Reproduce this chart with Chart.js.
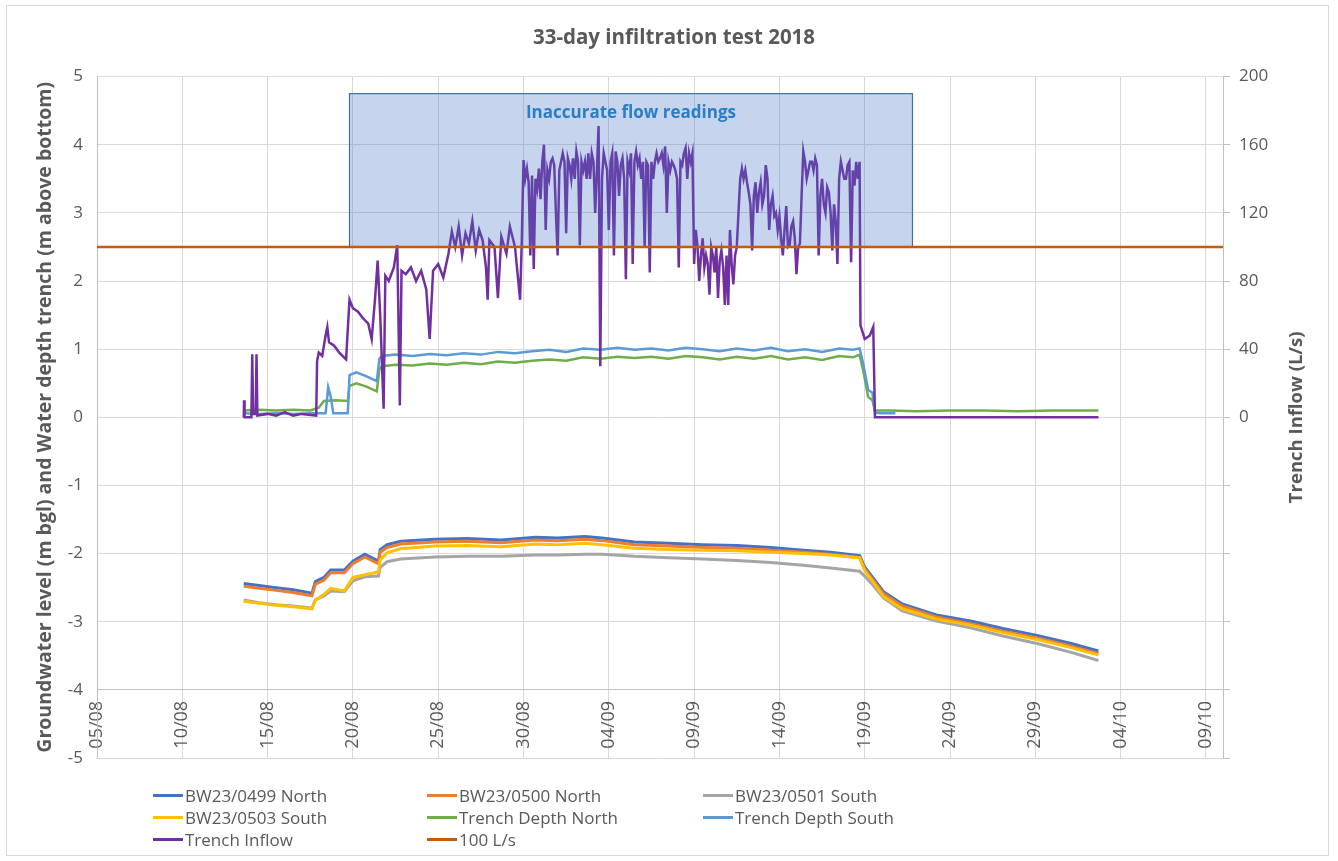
<!DOCTYPE html>
<html>
<head>
<meta charset="utf-8">
<script src="https://cdn.jsdelivr.net/npm/chart.js@4.4.1/dist/chart.umd.min.js"></script>
<style>
  html, body { margin: 0; padding: 0; background: #fff; }
  #wrap { position: relative; width: 1338px; height: 861px; }
  #frame { position: absolute; left: 6px; top: 5px; width: 1323px; height: 851px; border: 1px solid #d9d9d9; box-sizing: border-box; pointer-events: none; }
  .item { position: absolute; height: 22px; display: flex; align-items: center; white-space: nowrap;
          font-family: "Open Sans", sans-serif; font-size: 17px; color: #595959; }
  .item i { display: inline-block; width: 30px; height: 3px; margin-right: 2px; }
</style>
</head>
<body>
<div id="wrap">
  <canvas id="myChart" width="1338" height="861"></canvas>
  <div id="frame"></div>
</div>
<script>
// x values are days after 05/08/2018
var xTickLabels = ['05/08', '10/08', '15/08', '20/08', '25/08', '30/08', '04/09',
                   '09/09', '14/09', '19/09', '24/09', '29/09', '04/10', '09/10'];

// groundwater loggers (m bgl)
var gwDays = [8.6, 9.5, 10.5, 11.5, 12.6, 12.8, 13.3, 13.7, 14.5, 15.0,
              15.7, 16.5, 16.6, 17.0, 17.8, 19.8, 21.7, 23.7, 25.7, 27.0,
              28.6, 29.6, 31.5, 33.5, 35.5, 37.5, 39.5, 41.4, 43.0, 44.7,
              45.0, 45.5, 46.1, 47.2, 49.2, 51.2, 53.1, 55.1, 57.1, 58.7];
var bw0499 = [-2.44, -2.47, -2.50, -2.53, -2.58, -2.41, -2.35, -2.24, -2.24, -2.11,
              -2.01, -2.11, -1.94, -1.87, -1.82, -1.79, -1.78, -1.80, -1.76, -1.77,
              -1.75, -1.77, -1.83, -1.85, -1.87, -1.88, -1.91, -1.95, -1.98, -2.03,
              -2.20, -2.36, -2.56, -2.74, -2.90, -2.99, -3.10, -3.20, -3.32, -3.43];
var bw0500 = [-2.48, -2.51, -2.54, -2.57, -2.62, -2.45, -2.39, -2.28, -2.28, -2.15,
              -2.05, -2.15, -1.98, -1.91, -1.86, -1.83, -1.82, -1.84, -1.80, -1.81,
              -1.79, -1.81, -1.87, -1.89, -1.91, -1.92, -1.95, -1.98, -2.01, -2.06,
              -2.23, -2.39, -2.59, -2.77, -2.93, -3.03, -3.14, -3.24, -3.36, -3.47];
var bw0501 = [-2.68, -2.72, -2.75, -2.77, -2.80, -2.68, -2.62, -2.55, -2.56, -2.40,
              -2.34, -2.33, -2.20, -2.12, -2.08, -2.05, -2.04, -2.04, -2.02, -2.02,
              -2.01, -2.01, -2.04, -2.06, -2.08, -2.10, -2.13, -2.17, -2.21, -2.26,
              -2.33, -2.47, -2.65, -2.84, -2.99, -3.09, -3.21, -3.32, -3.45, -3.57];
var bw0503 = [-2.70, -2.73, -2.76, -2.78, -2.81, -2.68, -2.60, -2.51, -2.55, -2.35,
              -2.31, -2.27, -2.09, -1.99, -1.93, -1.89, -1.88, -1.90, -1.86, -1.87,
              -1.85, -1.87, -1.92, -1.94, -1.95, -1.96, -1.98, -2.00, -2.02, -2.06,
              -2.25, -2.42, -2.63, -2.81, -2.96, -3.05, -3.16, -3.26, -3.38, -3.49];

// trench water depth (m above bottom)
var tnDays = [8.6, 9.5, 10.5, 11.5, 12.5, 13.0, 13.3, 14.0, 14.7, 14.8,
              15.2, 15.8, 16.4, 16.55, 16.7, 17.5, 18.5, 19.5, 20.5, 21.5,
              22.5, 23.5, 24.5, 25.5, 26.5, 27.5, 28.5, 29.5, 30.5, 31.5,
              32.5, 33.5, 34.5, 35.5, 36.5, 37.5, 38.5, 39.5, 40.5, 41.5,
              42.5, 43.5, 44.3, 44.7, 44.9, 45.2, 45.45, 45.6, 46.5, 48,
              50, 52, 54, 56, 58.7];
var trenchNorth = [0.10, 0.11, 0.10, 0.11, 0.10, 0.14, 0.24, 0.25, 0.24, 0.46,
                   0.50, 0.45, 0.38, 0.70, 0.75, 0.77, 0.76, 0.79, 0.77, 0.80,
                   0.78, 0.82, 0.80, 0.83, 0.85, 0.83, 0.88, 0.86, 0.89, 0.87,
                   0.89, 0.86, 0.90, 0.88, 0.85, 0.89, 0.86, 0.90, 0.85, 0.88,
                   0.84, 0.90, 0.88, 0.92, 0.70, 0.30, 0.25, 0.10, 0.10, 0.09,
                   0.10, 0.10, 0.09, 0.10, 0.10];
var tsDays = [8.6, 9.5, 10.5, 11.5, 12.5, 13.4, 13.55, 13.7, 13.85, 14.7,
              14.8, 15.2, 15.8, 16.4, 16.55, 16.7, 17.5, 18.5, 19.5, 20.5,
              21.5, 22.5, 23.5, 24.5, 25.5, 26.5, 27.5, 28.5, 29.5, 30.5,
              31.5, 32.5, 33.5, 34.5, 35.5, 36.5, 37.5, 38.5, 39.5, 40.5,
              41.5, 42.5, 43.5, 44.3, 44.7, 44.9, 45.2, 45.45, 45.6, 46.0,
              46.8];
var trenchSouth = [0.06, 0.05, 0.06, 0.05, 0.06, 0.06, 0.44, 0.30, 0.06, 0.06,
                   0.62, 0.66, 0.60, 0.53, 0.86, 0.90, 0.92, 0.90, 0.93, 0.91,
                   0.94, 0.92, 0.96, 0.94, 0.97, 0.99, 0.96, 1.01, 0.99, 1.02,
                   0.99, 1.01, 0.98, 1.02, 1.00, 0.97, 1.01, 0.98, 1.02, 0.97,
                   1.00, 0.96, 1.01, 0.99, 1.01, 0.80, 0.40, 0.36, 0.07, 0.06,
                   0.06];

// trench inflow (L/s, right axis)
var inflowDays = [8.6, 8.62, 8.65, 9.05, 9.1, 9.15, 9.3, 9.35, 9.4, 10.0,
                  10.5, 11.0, 11.5, 12.0, 12.85, 12.9, 13.0, 13.2, 13.4, 13.5,
                  13.6, 13.9, 14.2, 14.6, 14.8, 15.0, 15.3, 15.6, 15.9, 16.1,
                  16.3, 16.45, 16.6, 16.8, 16.9, 17.1, 17.4, 17.6, 17.75, 17.85,
                  18.1, 18.4, 18.7, 19.0, 19.3, 19.5, 19.7, 20.0, 20.3, 20.6,
                  20.8, 21.0, 21.2, 21.4, 21.6, 21.8, 22.0, 22.2, 22.4, 22.6,
                  22.8, 22.9, 23.0, 23.3, 23.5, 23.7, 24.0, 24.2, 24.5, 24.8,
                  24.9, 25.0, 25.1, 25.2, 25.3, 25.4, 25.5, 25.6, 25.7, 25.8,
                  25.9, 26.0, 26.1, 26.2, 26.3, 26.4, 26.5, 26.6, 26.7, 26.8,
                  26.9, 27.0, 27.1, 27.2, 27.3, 27.4, 27.5, 27.6, 27.7, 27.8,
                  27.9, 28.0, 28.1, 28.2, 28.3, 28.4, 28.5, 28.6, 28.7, 28.8,
                  28.9, 29.0, 29.1, 29.2, 29.3, 29.4, 29.5, 29.6, 29.7, 29.8,
                  29.9, 30.0, 30.1, 30.2, 30.3, 30.4, 30.5, 30.6, 30.7, 30.8,
                  30.9, 31.0, 31.1, 31.2, 31.3, 31.4, 31.5, 31.6, 31.7, 31.8,
                  31.9, 32.0, 32.1, 32.2, 32.3, 32.4, 32.5, 32.6, 32.7, 32.8,
                  32.9, 33.0, 33.1, 33.2, 33.3, 33.4, 33.5, 33.6, 33.7, 33.8,
                  33.9, 34.0, 34.1, 34.2, 34.3, 34.4, 34.5, 34.6, 34.7, 34.8,
                  34.9, 35.0, 35.1, 35.2, 35.3, 35.4, 35.5, 35.6, 35.7, 35.8,
                  35.9, 36.0, 36.1, 36.2, 36.3, 36.4, 36.5, 36.6, 36.7, 36.8,
                  36.9, 37.0, 37.1, 37.2, 37.3, 37.4, 37.5, 37.6, 37.7, 37.8,
                  37.9, 38.0, 38.1, 38.2, 38.3, 38.4, 38.5, 38.6, 38.7, 38.8,
                  38.9, 39.0, 39.1, 39.2, 39.3, 39.4, 39.5, 39.6, 39.7, 39.8,
                  39.9, 40.0, 40.1, 40.2, 40.3, 40.4, 40.5, 40.6, 40.7, 40.8,
                  40.9, 41.0, 41.1, 41.2, 41.3, 41.4, 41.5, 41.6, 41.7, 41.8,
                  41.9, 42.0, 42.1, 42.2, 42.3, 42.4, 42.5, 42.6, 42.7, 42.8,
                  42.9, 43.0, 43.1, 43.2, 43.3, 43.4, 43.5, 43.6, 43.7, 43.8,
                  43.9, 44.0, 44.1, 44.2, 44.3, 44.4, 44.5, 44.6, 44.7, 44.75,
                  45.0, 45.3, 45.5, 45.6, 58.7];
var inflow = [0, 10, 0, 0, 37, 2, 2, 37, 1, 2,
              1, 3, 1, 2, 1, 33, 38, 36, 48, 53,
              44, 42, 38, 34, 69, 64, 62, 58, 55, 46,
              70, 92, 60, 5, 83, 80, 88, 101, 7, 86,
              84, 88, 80, 86, 75, 46, 86, 90, 82, 96,
              109, 100, 112, 95, 108, 102, 115, 98, 110, 104,
              88, 69, 104, 100, 70, 106, 96, 112, 100, 69,
              104, 151, 140, 146, 138, 95, 142, 87, 140, 134,
              146, 128, 150, 160, 110, 145, 140, 150, 152, 148,
              120, 95, 145, 150, 155, 150, 108, 152, 148, 140,
              152, 140, 156, 150, 101, 150, 145, 150, 140, 155,
              140, 155, 150, 120, 145, 171, 30, 140, 155, 150,
              145, 110, 150, 155, 95, 156, 150, 130, 148, 152,
              140, 81, 150, 145, 155, 90, 150, 156, 148, 152,
              140, 150, 100, 150, 148, 85, 150, 140, 150, 155,
              150, 152, 155, 148, 159, 120, 150, 145, 150, 148,
              145, 140, 88, 150, 148, 155, 158, 140, 155, 150,
              155, 90, 110, 100, 80, 95, 105, 88, 95, 90,
              72, 100, 95, 85, 100, 70, 92, 98, 88, 66,
              95, 66, 110, 90, 78, 95, 100, 120, 140, 146,
              140, 145, 138, 132, 125, 98, 130, 138, 120, 132,
              138, 125, 130, 148, 140, 110, 125, 130, 118, 120,
              110, 118, 105, 95, 110, 124, 100, 101, 112, 115,
              105, 84, 100, 102, 130, 156, 150, 140, 145, 150,
              150, 145, 152, 148, 95, 130, 140, 125, 120, 135,
              132, 120, 98, 125, 115, 90, 140, 150, 145, 140,
              140, 148, 150, 91, 145, 136, 150, 140, 150, 54,
              46, 48, 53, 0, 0];

// 100 L/s reference line over the whole axis
var refDays = [0, 66];
var refFlow = [100, 100];

// shaded box: days and left-axis values
var boxDays = [14.8, 47.8];
var boxLevels = [2.5, 4.75];
var boxText = 'Inaccurate flow readings';

function pts(xs, ys) {
    return xs.map(function(d, i) { return {x: d, y: ys[i]}; });
}

var font = "'Open Sans', sans-serif";
Chart.defaults.font.family = font;
Chart.defaults.font.size = 17;
Chart.defaults.color = '#595959';

const chartdata = {
    datasets: [
        {label: 'BW23/0499 North', data: pts(gwDays, bw0499), borderColor: '#4472C4', borderWidth: 3, yAxisID: 'y', order: 7},
        {label: 'BW23/0500 North', data: pts(gwDays, bw0500), borderColor: '#ED7D31', borderWidth: 3, yAxisID: 'y', order: 6},
        {label: 'BW23/0501 South', data: pts(gwDays, bw0501), borderColor: '#A5A5A5', borderWidth: 3, yAxisID: 'y', order: 5},
        {label: 'BW23/0503 South', data: pts(gwDays, bw0503), borderColor: '#FFC000', borderWidth: 3, yAxisID: 'y', order: 4},
        {label: 'Trench Depth North', data: pts(tnDays, trenchNorth), borderColor: '#70AD47', borderWidth: 2.5, yAxisID: 'y', order: 3},
        {label: 'Trench Depth South', data: pts(tsDays, trenchSouth), borderColor: '#5B9BD5', borderWidth: 2.5, yAxisID: 'y', order: 2},
        {label: 'Trench Inflow', data: pts(inflowDays, inflow), borderColor: '#7030A0', borderWidth: 2.5, yAxisID: 'y1', order: 1},
        {label: '100 L/s', data: pts(refDays, refFlow), borderColor: '#C55A11', borderWidth: 2.5, yAxisID: 'y1', order: 0}
    ]
};
chartdata.datasets.forEach(function(ds) {
    ds.pointRadius = 0;
    ds.backgroundColor = ds.borderColor;
    ds.tension = 0;
    ds.fill = false;
});

// box over the inflow series + right axis title reading upwards
const extras = {
    id: 'extras',
    afterDatasetDraw: function(chart, args) {
        if (args.index !== 6) return;
        var c = chart.ctx, x = chart.scales.x, y = chart.scales.y;
        var l = x.getPixelForValue(boxDays[0]), r = x.getPixelForValue(boxDays[1]);
        var b = y.getPixelForValue(boxLevels[0]), t = y.getPixelForValue(boxLevels[1]);
        c.save();
        c.fillStyle = 'rgba(68, 114, 196, 0.3)';
        c.fillRect(l, t, r - l, b - t);
        c.strokeStyle = '#41719C';
        c.lineWidth = 1.2;
        c.strokeRect(l, t, r - l, b - t);
        c.fillStyle = '#2a7fc4';
        c.font = 'bold 17px ' + font;
        c.textAlign = 'center';
        c.textBaseline = 'middle';
        c.fillText(boxText, (l + r) / 2, t + 20);
        c.restore();
    },
    afterDraw: function(chart) {
        var c = chart.ctx, a = chart.chartArea;
        c.save();
        c.translate(1297, (a.top + a.bottom) / 2);
        c.rotate(-Math.PI / 2);
        c.fillStyle = '#595959';
        c.font = 'bold 18.5px ' + font;
        c.textAlign = 'center';
        c.textBaseline = 'middle';
        c.fillText('Trench Inflow (L/s)', 0, 0);
        c.restore();
    }
};

const config = {
    type: 'line',
    data: chartdata,
    plugins: [extras],
    options: {
        responsive: false,
        animation: false,
        layout: {padding: {left: 30, right: 20, top: 0, bottom: 103}},
        plugins: {
            legend: {display: false},
            tooltip: {enabled: false},
            title: {
                display: true,
                text: '33-day infiltration test 2018',
                color: '#595959',
                font: {size: 20.5, weight: 'bold'},
                padding: {top: 26, bottom: 26}
            }
        },
        scales: {
            x: {
                type: 'linear',
                min: 0,
                max: 66,
                position: {y: -4},
                grid: {color: '#d9d9d9', drawTicks: false},
                border: {color: '#bfbfbf'},
                ticks: {
                    stepSize: 5,
                    includeBounds: false,
                    autoSkip: false,
                    minRotation: 90,
                    maxRotation: 90,
                    padding: 11,
                    font: {size: 18},
                    callback: function(v) { return xTickLabels[Math.round(v / 5)]; }
                }
            },
            y: {
                position: 'left',
                min: -5,
                max: 5,
                grid: {color: '#d9d9d9', drawTicks: false},
                border: {color: '#bfbfbf'},
                ticks: {stepSize: 1, padding: 14},
                title: {
                    display: true,
                    text: 'Groundwater level (m bgl) and Water depth trench (m above bottom)',
                    font: {size: 19.5, weight: 'bold'},
                    padding: {top: 4, bottom: 4}
                },
                afterFit: function(s) { s.width = 67; }
            },
            y1: {
                position: 'right',
                min: -200,
                max: 200,
                grid: {drawOnChartArea: false, color: '#bfbfbf', tickLength: 7},
                border: {color: '#bfbfbf'},
                ticks: {
                    stepSize: 40,
                    padding: 9,
                    callback: function(v) { return v < 0 ? '' : v; }
                },
                afterFit: function(s) { s.width = 95; }
            }
        }
    }
};

var myChart = new Chart(document.getElementById('myChart'), config);

// legend laid out in three columns like the original
var legendCols = [153, 427, 703];
var legendRows = [784, 806, 828];
var wrap = document.getElementById('wrap');
chartdata.datasets.forEach(function(ds, i) {
    var div = document.createElement('div');
    div.className = 'item';
    div.style.left = legendCols[i % 3] + 'px';
    div.style.top = legendRows[Math.floor(i / 3)] + 'px';
    div.innerHTML = '<i style="background:' + ds.borderColor + '"></i>' + ds.label;
    wrap.appendChild(div);
});
</script>
</body>
</html>
